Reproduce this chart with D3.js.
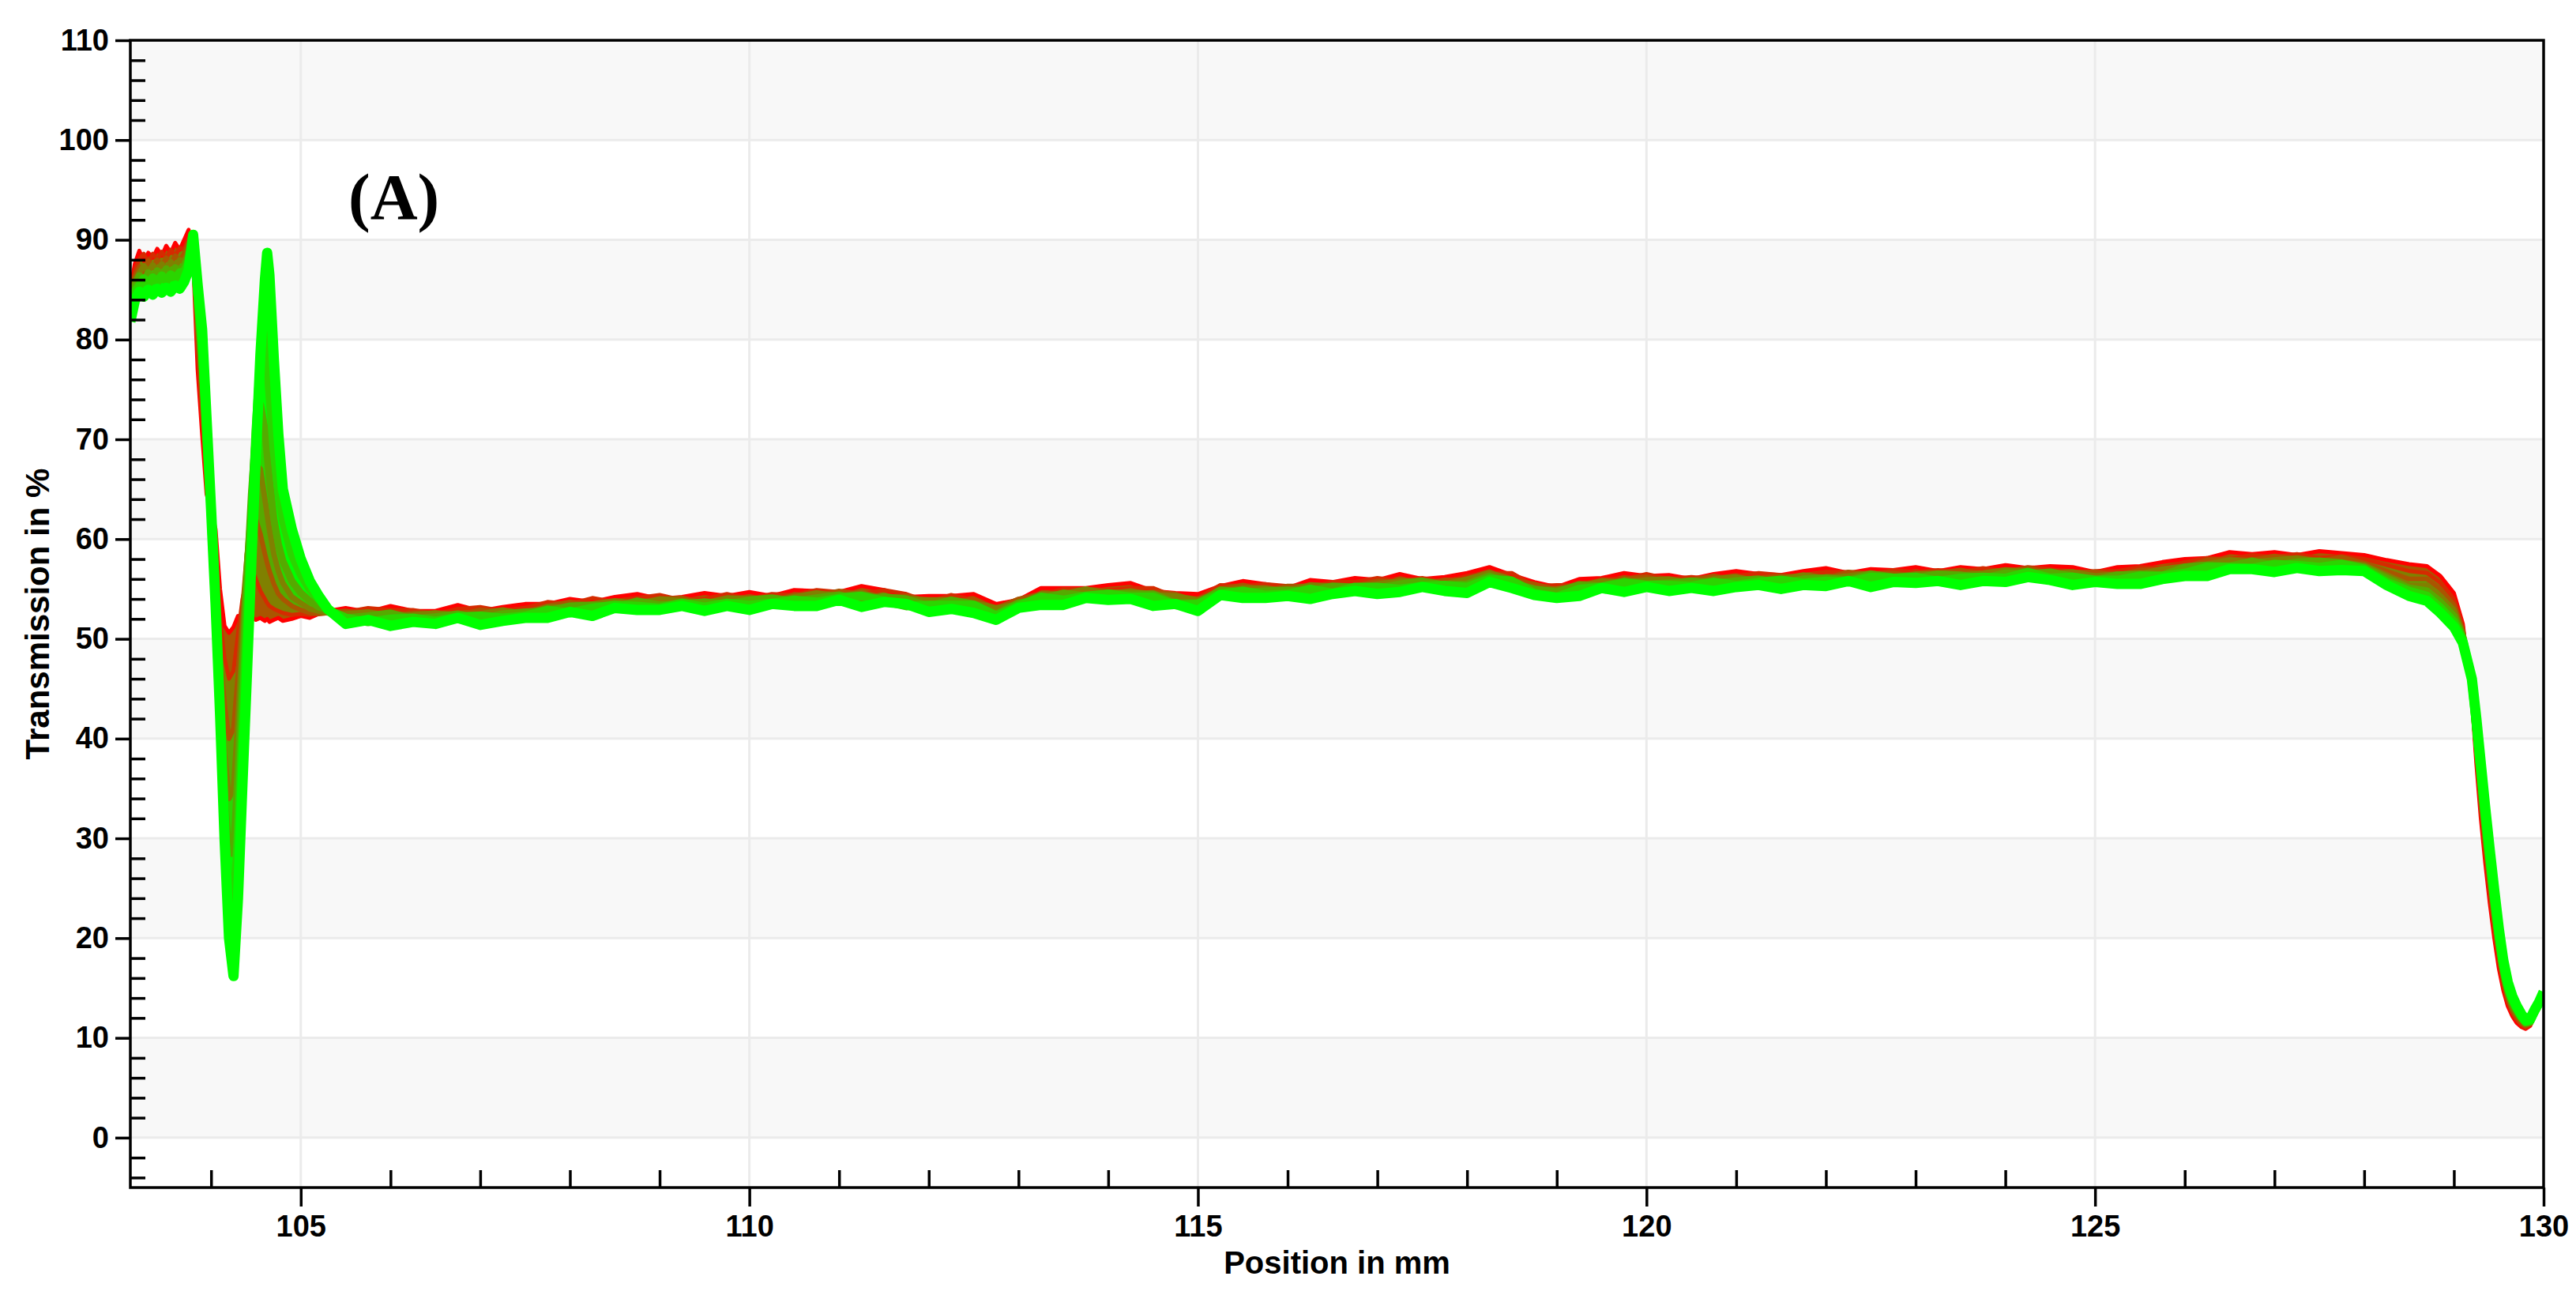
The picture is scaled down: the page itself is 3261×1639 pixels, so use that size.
<!DOCTYPE html>
<html>
<head>
<meta charset="utf-8">
<script src="https://cdn.jsdelivr.net/npm/d3@7"></script>
<style>
  body { margin: 0; background: #ffffff; }
  svg { display: block; }
</style>
</head>
<body>
<div class="chart"></div>
<script>
// positions (mm) shared by every scan
const position_mm = [
    103.10, 103.15, 103.20, 103.25, 103.30, 103.35, 103.40, 103.45, 103.50, 103.55, 103.60, 103.65, 103.70, 103.75, 103.80,
    103.85, 103.90, 103.95, 104.00, 104.05, 104.10, 104.15, 104.20, 104.25, 104.30, 104.35, 104.40, 104.45, 104.50, 104.55,
    104.60, 104.625, 104.65, 104.70, 104.75, 104.80, 104.90, 105.00, 105.10, 105.20, 105.30,
    105.50, 105.75, 106.00, 106.25, 106.50, 106.75, 107.00, 107.25, 107.50, 107.75,
    108.00, 108.25, 108.50, 108.75, 109.00, 109.25, 109.50, 109.75, 110.00, 110.25,
    110.50, 110.75, 111.00, 111.25, 111.50, 111.75, 112.00, 112.25, 112.50, 112.75,
    113.00, 113.25, 113.50, 113.75, 114.00, 114.25, 114.50, 114.75, 115.00, 115.25,
    115.50, 115.75, 116.00, 116.25, 116.50, 116.75, 117.00, 117.25, 117.50, 117.75,
    118.00, 118.25, 118.50, 118.75, 119.00, 119.25, 119.50, 119.75, 120.00, 120.25,
    120.50, 120.75, 121.00, 121.25, 121.50, 121.75, 122.00, 122.25, 122.50, 122.75,
    123.00, 123.25, 123.50, 123.75, 124.00, 124.25, 124.50, 124.75, 125.00, 125.25,
    125.50, 125.75, 126.00, 126.25, 126.50, 126.75, 127.00, 127.25, 127.50, 127.75,
    128.00, 128.25, 128.50,
    128.70, 128.85, 129.00, 129.10, 129.20, 129.25, 129.30, 129.35, 129.40, 129.45, 129.50,
    129.55, 129.60, 129.65, 129.70, 129.75, 129.80, 129.85, 129.90, 129.95, 130.00
];

// transmission in %, first scan (red) ... last scan (green)
const scan_01 = [
    85.0, 87.6, 88.9, 87.9, 88.7, 88.2, 89.1, 88.4, 89.4, 88.7, 89.7, 89.0, 90.0, 91.0, 88.0,
    77.0, 70.5, 64.5, 63.0, 61.0, 55.0, 51.3, 50.6, 51.2, 52.3, 52.0, 51.8, 52.2, 51.9, 52.1,
    51.8, 52.0, 51.7, 51.9, 52.1, 51.8, 52.0, 52.3, 52.1, 52.5, 52.8,
    53.1, 52.7, 53.3, 52.8, 52.8, 53.4, 52.8, 53.2, 53.5, 53.5,
    54.0, 53.7, 54.2, 54.5, 54.0, 54.2, 54.6, 54.3, 54.7, 54.3,
    54.9, 54.8, 54.7, 55.3, 54.9, 54.2, 54.3, 54.3, 54.5, 53.5,
    53.9, 55.1, 55.1, 55.1, 55.4, 55.6, 54.8, 54.6, 54.5, 55.3,
    55.8, 55.5, 55.1, 55.9, 55.7, 56.1, 55.9, 56.5, 56.0, 56.2,
    56.6, 57.2, 56.4, 55.7, 55.2, 56.0, 56.1, 56.6, 56.3, 56.4,
    56.0, 56.5, 56.8, 56.5, 56.4, 56.8, 57.1, 56.6, 57.0, 56.9,
    57.2, 56.8, 57.2, 57.0, 57.4, 57.1, 57.3, 57.2, 56.7, 57.2,
    57.3, 57.7, 58.0, 58.1, 58.7, 58.5, 58.7, 58.4, 58.8, 58.6,
    58.4, 57.9, 57.5,
    57.3, 56.3, 54.6, 51.5, 44.0, 37.5, 32.0, 27.5, 23.5, 20.0, 17.0,
    14.8, 13.2, 12.2, 11.5, 11.1, 10.9, 11.2, 12.2, 13.0, 14.0
];
const scan_02 = [
    84.6, 86.9, 88.1, 88.6, 87.7, 88.6, 88.0, 88.8, 88.1, 89.0, 88.4, 89.2, 89.0, 90.2, 89.0,
    79.0, 72.0, 66.0, 61.5, 57.5, 52.0, 48.0, 46.0, 46.8, 50.5, 54.0, 56.0, 57.0, 56.0, 54.8,
    54.0, 53.6, 53.3, 53.0, 52.8, 52.6, 52.4, 52.5, 52.4, 52.6, 52.7,
    52.7, 53.1, 52.9, 52.9, 52.5, 53.0, 53.2, 52.8, 53.1, 53.7,
    53.5, 54.1, 53.7, 54.1, 54.4, 53.9, 54.0, 54.5, 54.0, 54.5,
    54.4, 54.9, 54.7, 54.5, 54.9, 54.5, 53.7, 54.4, 53.9, 53.2,
    54.0, 54.4, 55.0, 55.0, 54.9, 55.1, 55.1, 54.2, 54.1, 55.4,
    55.3, 55.5, 55.3, 55.2, 55.7, 55.7, 56.1, 55.8, 56.1, 55.7,
    56.3, 56.6, 56.6, 55.3, 55.4, 55.4, 56.0, 56.0, 56.5, 56.0,
    56.2, 56.0, 56.3, 56.6, 56.4, 56.3, 56.7, 56.7, 56.5, 56.9,
    56.7, 56.9, 56.7, 57.1, 56.8, 57.2, 57.0, 56.6, 56.8, 56.8,
    57.2, 57.1, 57.7, 58.1, 58.0, 58.4, 58.2, 58.5, 58.1, 58.3,
    58.0, 57.4, 56.8,
    56.6, 55.6, 54.0, 51.2, 44.4, 38.2, 32.9, 28.4, 24.4, 20.8, 17.7,
    15.3, 13.6, 12.5, 11.8, 11.3, 11.0, 11.3, 12.3, 13.1, 14.1
];
const scan_03 = [
    84.0, 86.3, 87.3, 86.8, 87.9, 87.2, 88.0, 87.4, 88.2, 87.6, 88.4, 87.9, 88.6, 89.7, 89.4,
    80.5, 74.0, 67.5, 60.5, 55.0, 48.5, 43.5, 40.0, 41.0, 46.5, 53.0, 58.5, 61.5, 62.0, 60.5,
    58.5, 57.6, 56.8, 55.5, 54.5, 54.0, 53.3, 52.9, 52.6, 52.5, 52.6,
    52.8, 52.4, 52.3, 52.6, 52.6, 52.4, 52.9, 52.7, 52.7, 53.3,
    53.7, 53.4, 53.8, 53.7, 54.0, 54.1, 53.6, 54.0, 54.2, 53.8,
    54.4, 54.3, 54.8, 54.5, 54.2, 54.3, 53.8, 53.6, 54.0, 53.0,
    54.0, 54.5, 54.4, 55.0, 54.8, 54.5, 54.7, 54.5, 53.7, 55.0,
    55.4, 54.8, 55.3, 55.3, 55.2, 55.3, 55.8, 55.7, 55.5, 55.9,
    55.9, 56.5, 55.9, 55.5, 54.9, 55.6, 55.4, 56.0, 56.2, 55.7,
    55.9, 56.3, 55.9, 56.1, 56.3, 56.1, 56.1, 56.7, 56.5, 56.6,
    56.3, 56.6, 56.9, 56.5, 56.7, 57.1, 56.6, 56.7, 56.7, 56.4,
    56.9, 57.0, 57.2, 57.9, 58.0, 57.9, 58.3, 58.0, 57.8, 58.2,
    57.6, 56.8, 56.0,
    56.0, 55.0, 53.4, 50.8, 44.8, 38.9, 33.8, 29.3, 25.3, 21.6, 18.4,
    15.8, 14.0, 12.8, 12.1, 11.5, 11.2, 11.4, 12.4, 13.2, 14.2
];
const scan_04 = [
    83.5, 85.9, 86.7, 87.4, 86.8, 87.5, 86.9, 87.6, 87.1, 87.8, 87.3, 88.0, 87.8, 89.0, 89.7,
    82.0, 76.0, 69.0, 61.0, 53.5, 45.5, 38.5, 34.0, 35.0, 42.0, 50.5, 58.0, 64.0, 67.5, 67.0,
    64.0, 62.5, 61.0, 58.5, 56.8, 55.6, 54.2, 53.6, 53.0, 52.8, 52.6,
    52.5, 52.7, 52.3, 52.4, 52.6, 52.4, 52.5, 52.9, 52.5, 53.2,
    53.2, 53.5, 53.8, 53.5, 54.0, 53.8, 53.6, 54.1, 54.0, 53.8,
    54.2, 54.6, 54.3, 54.6, 54.1, 54.0, 53.9, 53.9, 53.6, 53.1,
    53.5, 54.5, 54.5, 55.0, 54.5, 54.8, 54.4, 54.3, 53.9, 54.8,
    55.1, 55.1, 54.8, 55.4, 55.3, 55.2, 55.5, 55.8, 55.8, 55.5,
    56.0, 56.6, 56.0, 54.9, 55.0, 55.3, 55.8, 55.7, 55.9, 56.0,
    55.6, 56.0, 56.2, 55.8, 56.0, 56.4, 56.1, 56.3, 56.6, 56.2,
    56.5, 56.6, 56.4, 56.6, 56.9, 56.8, 56.5, 56.7, 56.3, 56.5,
    56.5, 57.0, 57.3, 57.5, 57.9, 57.7, 57.9, 58.1, 57.8, 57.7,
    57.4, 56.4, 55.4,
    55.4, 54.3, 52.9, 50.5, 45.2, 39.6, 34.7, 30.2, 26.2, 22.4, 19.1,
    16.3, 14.4, 13.1, 12.4, 11.8, 11.4, 11.5, 12.5, 13.3, 14.3
];
const scan_05 = [
    83.0, 85.3, 86.4, 85.8, 86.7, 86.2, 86.9, 86.4, 87.1, 86.6, 87.2, 86.9, 87.4, 88.3, 90.0,
    83.5, 78.0, 70.0, 61.5, 52.5, 42.5, 34.0, 28.5, 28.5, 36.5, 46.5, 56.0, 64.5, 71.0, 73.5,
    71.0, 68.5, 66.0, 62.0, 59.5, 57.8, 55.8, 54.6, 53.8, 53.2, 52.9,
    52.1, 52.3, 52.6, 52.0, 52.2, 52.5, 52.0, 52.5, 52.7, 52.8,
    53.3, 53.4, 53.2, 53.8, 53.4, 53.5, 53.7, 53.5, 53.9, 54.1,
    53.8, 54.1, 54.4, 53.9, 54.2, 54.0, 53.3, 53.9, 53.5, 52.5,
    53.6, 54.0, 54.6, 54.3, 54.6, 54.5, 54.5, 53.6, 53.6, 54.9,
    54.7, 54.8, 54.9, 54.8, 55.3, 55.2, 55.1, 55.5, 55.8, 55.4,
    55.5, 56.3, 55.6, 55.0, 54.7, 55.4, 55.3, 55.8, 55.5, 55.6,
    55.8, 55.6, 55.8, 56.0, 55.6, 56.0, 56.1, 55.9, 56.5, 56.2,
    56.1, 56.5, 56.4, 56.1, 56.6, 56.5, 56.7, 56.3, 55.9, 56.4,
    56.5, 56.4, 57.2, 57.4, 57.3, 57.8, 57.4, 57.7, 57.8, 57.6,
    57.2, 56.1, 55.1,
    54.8, 53.7, 52.3, 50.2, 45.5, 40.4, 35.6, 31.1, 27.1, 23.2, 19.8,
    16.8, 14.8, 13.5, 12.7, 12.0, 11.5, 11.6, 12.6, 13.4, 14.4
];
const scan_06 = [
    82.5, 84.8, 85.4, 86.1, 85.6, 86.2, 85.8, 86.4, 85.9, 86.5, 86.1, 86.7, 86.8, 87.7, 90.3,
    84.5, 79.5, 71.0, 62.5, 53.0, 42.0, 31.5, 23.5, 22.0, 30.0, 41.0, 51.5, 61.5, 71.0, 78.0,
    80.5, 78.5, 75.0, 69.0, 65.0, 62.0, 58.5, 56.5, 55.0, 54.0, 52.9,
    52.1, 51.7, 52.0, 52.1, 51.8, 52.2, 52.3, 52.1, 52.3, 52.9,
    52.6, 53.1, 53.4, 53.3, 53.1, 53.6, 53.2, 53.6, 53.4, 53.6,
    53.9, 53.7, 54.1, 54.3, 53.8, 53.3, 53.4, 53.4, 53.4, 52.3,
    53.3, 54.2, 53.9, 54.3, 54.5, 54.2, 54.2, 53.4, 53.5, 54.5,
    54.8, 54.4, 54.5, 55.0, 54.6, 55.2, 55.2, 55.0, 55.3, 55.4,
    55.2, 56.0, 55.8, 54.6, 54.2, 55.0, 55.2, 55.6, 55.4, 55.4,
    55.3, 55.7, 55.4, 55.7, 55.9, 55.6, 55.8, 55.7, 56.2, 56.1,
    56.2, 55.8, 56.1, 56.2, 56.1, 56.7, 56.1, 56.2, 55.9, 55.9,
    56.3, 56.3, 56.6, 57.2, 57.2, 57.1, 57.5, 57.4, 57.2, 57.5,
    57.0, 55.7, 54.8,
    54.3, 53.1, 51.7, 49.9, 45.8, 41.2, 36.6, 32.1, 28.0, 24.0, 20.4,
    17.3, 15.2, 13.9, 13.0, 12.2, 11.6, 11.7, 12.7, 13.5, 14.5
];
const scan_07 = [
    81.8, 83.9, 84.8, 84.3, 85.0, 84.5, 85.1, 84.7, 85.2, 84.8, 85.4, 85.1, 85.8, 87.0, 90.5,
    85.5, 81.0, 72.0, 63.0, 53.5, 42.5, 30.0, 20.0, 16.2, 24.0, 35.5, 46.5, 58.0, 68.5, 78.5,
    86.0, 88.7, 86.5, 78.0, 70.5, 65.0, 61.0, 58.0, 55.8, 54.3, 53.0,
    51.5, 51.9, 51.3, 51.7, 51.5, 52.1, 51.4, 51.8, 52.1, 52.1,
    52.7, 52.3, 53.1, 52.9, 52.9, 53.3, 52.8, 53.3, 52.9, 53.5,
    53.3, 53.3, 53.9, 53.2, 53.7, 53.5, 52.7, 53.0, 52.6, 51.9,
    53.1, 53.4, 53.4, 54.1, 53.9, 54.0, 53.3, 53.5, 52.8, 54.4,
    54.1, 54.1, 54.3, 54.0, 54.5, 54.8, 54.5, 54.7, 55.2, 54.8,
    54.6, 55.7, 55.1, 54.4, 54.1, 54.3, 55.1, 54.7, 55.2, 54.8,
    55.1, 54.8, 55.2, 55.4, 55.0, 55.4, 55.3, 55.8, 55.2, 55.7,
    55.6, 55.8, 55.4, 55.8, 55.7, 56.2, 55.9, 55.4, 55.7, 55.5,
    55.5, 56.0, 56.3, 56.3, 57.0, 57.0, 56.7, 57.1, 56.8, 56.9,
    56.8, 55.4, 54.3,
    53.8, 52.6, 51.2, 49.6, 46.0, 42.0, 37.5, 33.0, 28.8, 24.8, 21.0,
    17.8, 15.6, 14.2, 13.2, 12.4, 11.8, 11.9, 12.8, 13.6, 14.6
];
const scans = [scan_01, scan_02, scan_03, scan_04, scan_05, scan_06, scan_07];

// axes
const x_domain = [103.1, 130];
const y_domain = [-5, 110];
const x_major = [105, 110, 115, 120, 125, 130];
const x_minor = [104, 106, 107, 108, 109, 111, 112, 113, 114, 116, 117, 118, 119, 121, 122, 123, 124, 126, 127, 128, 129];
const y_major = [0, 10, 20, 30, 40, 50, 60, 70, 80, 90, 100, 110];
const y_minor = [-4, -2, 2, 4, 6, 8, 12, 14, 16, 18, 22, 24, 26, 28, 32, 34, 36, 38, 42, 44, 46, 48,
    52, 54, 56, 58, 62, 64, 66, 68, 72, 74, 76, 78, 82, 84, 86, 88, 92, 94, 96, 98, 102, 104, 106, 108];

const x_title = "Position in mm";
const y_title = "Transmission in %";
const panel_label = "(A)";

const W = 3261, H = 1639;
const margin = { top: 51, right: 41, bottom: 136, left: 165 };
const width = W - margin.left - margin.right;
const height = H - margin.top - margin.bottom;

const axis_w = 3.5;
// later scans are drawn wider so the green dominates the band, as in the original
const scan_w = [5, 5, 6, 7, 9, 11, 13];
const sans = '"Liberation Sans", Arial, sans-serif';

const svg = d3.select(".chart")
    .append("svg")
    .attr("width", W)
    .attr("height", H);

const x_scale = d3.scaleLinear().domain(x_domain).range([0, width]);
const y_scale = d3.scaleLinear().domain(y_domain).range([height, 0]);

const g = svg.append("g")
    .attr("transform", "translate(" + margin.left + "," + margin.top + ")");

/* BACKGROUND BANDS + GRID */
const bands = y_major.filter(function(v) { return v < 110 && (v / 10) % 2 == 0; });
g.selectAll("rect.band")
    .data(bands)
    .enter()
    .append("rect")
    .attr("class", "band")
    .attr("x", 0)
    .attr("width", width)
    .attr("y", function(d) { return y_scale(d + 10); })
    .attr("height", function(d) { return y_scale(d) - y_scale(d + 10); })
    .attr("fill", "#f8f8f8");

g.selectAll("line.hgrid")
    .data(y_major.filter(function(v) { return v < 110; }))
    .enter()
    .append("line")
    .attr("class", "hgrid")
    .attr("x1", 0).attr("x2", width)
    .attr("y1", function(d) { return y_scale(d); })
    .attr("y2", function(d) { return y_scale(d); })
    .attr("stroke", "#ebebeb")
    .attr("stroke-width", 3);

g.selectAll("line.vgrid")
    .data(x_major.filter(function(v) { return v < 130; }))
    .enter()
    .append("line")
    .attr("class", "vgrid")
    .attr("y1", 0).attr("y2", height)
    .attr("x1", function(d) { return x_scale(d); })
    .attr("x2", function(d) { return x_scale(d); })
    .attr("stroke", "#ebebeb")
    .attr("stroke-width", 3);

/* SCANS */
g.append("clipPath")
    .attr("id", "plot_clip")
    .append("rect")
    .attr("width", width)
    .attr("height", height);

// red for the first scan, green for the last one
const color = function(i) {
    return d3.interpolateRgb("#ff0000", "#00ff00")(Math.min(1, i / (scans.length - 1)));
};

const line = d3.line()
    .x(function(d, i) { return x_scale(position_mm[i]); })
    .y(function(d) { return y_scale(d); });

// the gap between one scan and the next is shaded (stands in for the scans in between)
const pairs = scans.slice(1).map(function(s, i) { return [scans[i], s]; });
const gap_area = d3.area()
    .x(function(d, i) { return x_scale(position_mm[i]); })
    .y0(function(d) { return y_scale(d[0]); })
    .y1(function(d) { return y_scale(d[1]); });

const plot = g.append("g").attr("clip-path", "url(#plot_clip)");

plot.selectAll("path.gap")
    .data(pairs)
    .enter()
    .append("path")
    .attr("class", "gap")
    .attr("d", function(p) { return gap_area(p[0].map(function(v, i) { return [v, p[1][i]]; })); })
    .attr("fill", function(d, i) { return color(i + 2); });

plot.selectAll("path.scan")
    .data(scans)
    .enter()
    .append("path")
    .attr("class", "scan")
    .attr("d", line)
    .attr("fill", "none")
    .attr("stroke", function(d, i) { return color(i); })
    .attr("stroke-width", function(d, i) { return scan_w[i]; })
    .attr("stroke-linejoin", "round");

/* AXES */
function style_axis(sel) {
    sel.select(".domain").remove();
    sel.selectAll(".tick line")
        .attr("stroke", "#000")
        .attr("stroke-width", axis_w);
    sel.selectAll(".tick text")
        .attr("fill", "#000")
        .style("font-family", sans)
        .style("font-weight", "bold")
        .style("font-size", "38px");
}

g.append("g")
    .call(d3.axisLeft(y_scale).tickValues(y_major).tickSize(19).tickPadding(8).tickFormat(d3.format("d")))
    .call(style_axis);

g.append("g")
    .call(d3.axisRight(y_scale).tickValues(y_minor).tickSize(19).tickFormat(""))
    .call(style_axis);

g.append("g")
    .attr("transform", "translate(0," + height + ")")
    .call(d3.axisBottom(x_scale).tickValues(x_major).tickSize(24).tickPadding(11).tickFormat(d3.format("d")))
    .call(style_axis);

g.append("g")
    .attr("transform", "translate(0," + height + ")")
    .call(d3.axisTop(x_scale).tickValues(x_minor).tickSize(22).tickFormat(""))
    .call(style_axis);

// frame
g.append("rect")
    .attr("width", width)
    .attr("height", height)
    .attr("fill", "none")
    .attr("stroke", "#000")
    .attr("stroke-width", axis_w);

/* TITLES */
svg.append("text")
    .attr("x", margin.left + width / 2)
    .attr("y", 1612)
    .attr("text-anchor", "middle")
    .style("font-family", sans)
    .style("font-weight", "bold")
    .style("font-size", "40px")
    .text(x_title);

svg.append("text")
    .attr("transform", "translate(62," + (margin.top + height / 2) + ") rotate(-90)")
    .attr("text-anchor", "middle")
    .style("font-family", sans)
    .style("font-weight", "bold")
    .style("font-size", "42px")
    .text(y_title);

svg.append("text")
    .attr("x", 441)
    .attr("y", 277)
    .style("font-family", '"Liberation Serif", "Times New Roman", serif')
    .style("font-weight", "bold")
    .style("font-size", "83px")
    .text(panel_label);
</script>
</body>
</html>
